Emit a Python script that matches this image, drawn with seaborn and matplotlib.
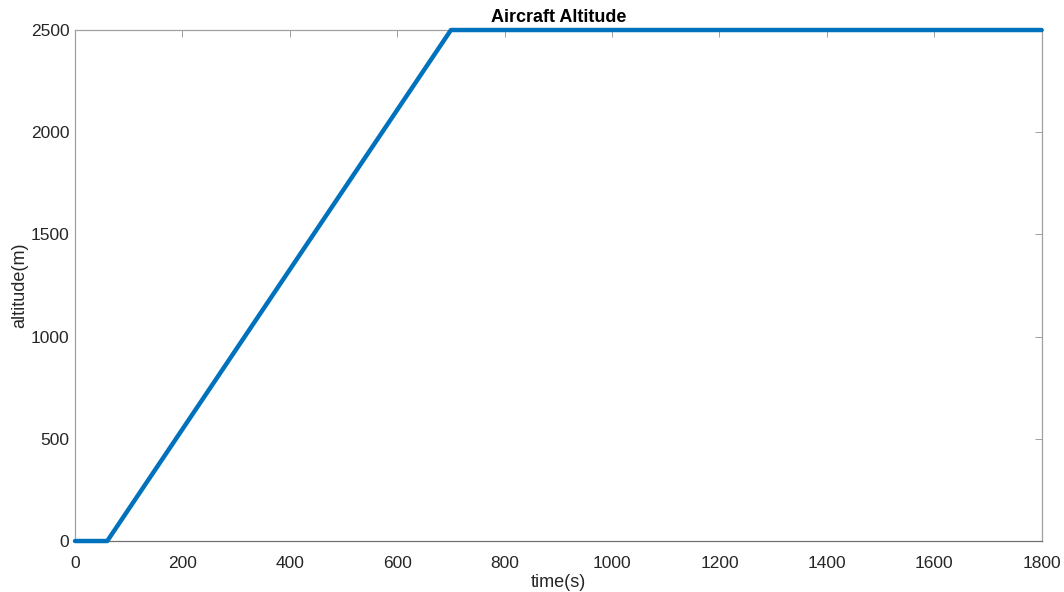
import matplotlib
matplotlib.use("Agg")
import matplotlib.pyplot as plt
import seaborn as sns
import pandas as pd

time_s = [0, 60, 700, 1800]
altitude_m = [0, 0, 2500, 2500]
x_ticks = [0, 200, 400, 600, 800, 1000, 1200, 1400, 1600, 1800]
y_ticks = [0, 500, 1000, 1500, 2000, 2500]

sns.set_style("white")
plt.rcParams['font.family'] = ['Liberation Sans', 'DejaVu Sans']

df = pd.DataFrame({"time": time_s, "altitude": altitude_m})

fig = plt.figure(figsize=(10.64, 5.92), dpi=100)
ax = fig.add_axes([0.0705, 0.0861, 0.9085, 0.8632])
sns.lineplot(data=df, x="time", y="altitude", ax=ax, color="#0072BD",
             linewidth=3.2, sort=False, estimator=None, clip_on=False, zorder=5)
ax.set_xlim(0, 1800)
ax.set_ylim(0, 2500)
ax.set_xticks(x_ticks)
ax.set_yticks(y_ticks)
ax.tick_params(direction="in", top=True, right=True, length=5, width=0.7,
               color="#a0a0a0", labelcolor="#262626", labelsize=12.5, pad=4)
ax.tick_params(axis="x", pad=11)
for name, s in ax.spines.items():
    s.set_color("#a0a0a0")
    s.set_linewidth(0.9)
    s.set_visible(True)
ax.spines["bottom"].set_color("#707070")
ax.set_xlabel("time(s)", fontsize=13, color="#262626", labelpad=2)
ax.set_ylabel("altitude(m)", fontsize=13, color="#262626", labelpad=2)
ax.set_title("Aircraft Altitude", fontsize=13, fontweight="bold", color="#000000", pad=6)
fig.savefig("out.png", dpi=100, facecolor="white")
